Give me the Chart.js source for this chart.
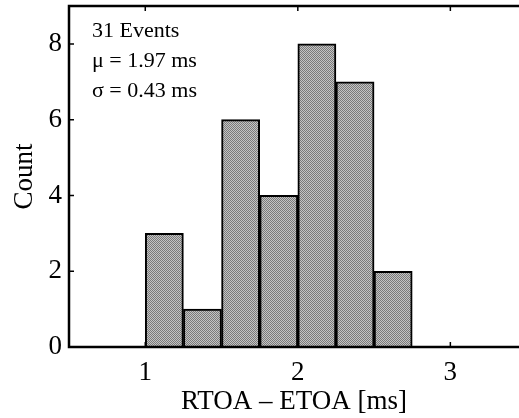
<!DOCTYPE html>
<html>
<head>
<meta charset="utf-8">
<script src="https://cdn.jsdelivr.net/npm/chart.js@4/dist/chart.umd.min.js"></script>
<style>
  html, body { margin: 0; padding: 0; background: #fff; }
  #wrap { width: 519px; height: 418px; }
</style>
</head>
<body>
<div id="wrap"><canvas id="histo"></canvas></div>
<script>
// bin edges of the histogram (ms) and counts in each bin
const binEdges = [1.0, 1.25, 1.5, 1.75, 2.0, 2.25, 2.5, 2.75];
const counts = [3, 1, 6, 4, 8, 7, 2];
const xTicks = [1, 2, 3];
const yTicks = [0, 2, 4, 6, 8];
const statsLines = ["31 Events", "\u03bc = 1.97 ms", "\u03c3 = 0.43 ms"];

const points = [];
for (let i = 0; i < counts.length; i++) {
  points.push({ x: (binEdges[i] + binEdges[i + 1]) / 2, y: counts[i] });
}

// stippled grey fill like the print
function makePattern() {
  const c = document.createElement("canvas");
  c.width = 2; c.height = 2;
  const g = c.getContext("2d");
  g.fillStyle = "#c4c4c4"; g.fillRect(0, 0, 2, 2);
  g.fillStyle = "#7a7a7a"; g.fillRect(0, 0, 1, 1); g.fillRect(1, 1, 1, 1);
  return g.createPattern(c, "repeat");
}

const serif = "'Liberation Serif', 'DejaVu Serif', serif";
const axisFont = { family: serif, size: 27, lineHeight: 1 };

// frame, inward ticks and stats text
const framePlugin = {
  id: "frame",
  afterDatasetsDraw(chart) {
    const ctx = chart.ctx;
    const a = chart.chartArea;
    const xs = chart.scales.x, ys = chart.scales.y;
    ctx.save();
    ctx.strokeStyle = "#000";
    ctx.lineWidth = 2.5;
    ctx.beginPath();
    ctx.moveTo(a.right, a.top);
    ctx.lineTo(a.left, a.top);
    ctx.lineTo(a.left, a.bottom);
    ctx.lineTo(a.right, a.bottom);
    ctx.stroke();
    ctx.lineWidth = 1.5;
    ctx.beginPath();
    for (const v of xTicks) {
      const px = xs.getPixelForValue(v);
      ctx.moveTo(px, a.bottom); ctx.lineTo(px, a.bottom - 5);
      ctx.moveTo(px, a.top); ctx.lineTo(px, a.top + 5);
    }
    for (const v of yTicks) {
      const py = ys.getPixelForValue(v);
      ctx.moveTo(a.left, py); ctx.lineTo(a.left + 5, py);
    }
    ctx.stroke();
    ctx.fillStyle = "#000";
    ctx.font = "22px " + serif;
    ctx.textBaseline = "alphabetic";
    for (let i = 0; i < statsLines.length; i++) {
      ctx.fillText(statsLines[i], a.left + 23, a.top + 31 + i * 30);
    }
    ctx.restore();
  }
};

new Chart(document.querySelector("#histo"), {
  type: "bar",
  data: {
    datasets: [{
      data: points,
      backgroundColor: makePattern(),
      borderColor: "#000",
      borderWidth: 2,
      barPercentage: 1,
      categoryPercentage: 1,
    }],
  },
  options: {
    responsive: true,
    maintainAspectRatio: false,
    animation: false,
    layout: { padding: { top: 6, right: 0, left: 5, bottom: 0 } },
    plugins: { legend: { display: false }, tooltip: { enabled: false } },
    scales: {
      x: {
        type: "linear",
        min: 0.5,
        max: 3.45,
        offset: false,
        afterBuildTicks: (s) => { s.ticks = xTicks.map(v => ({ value: v })); },
        afterFit: (s) => { s.height = 71; s.paddingLeft = 0; s.paddingRight = 0; },
        grid: { display: false, drawTicks: false },
        border: { display: false },
        ticks: { color: "#000", font: axisFont, padding: 12, maxRotation: 0 },
        title: {
          display: true,
          text: "RTOA \u2013 ETOA [ms]",
          color: "#000",
          font: axisFont,
          padding: { top: 2, bottom: 3 },
        },
      },
      y: {
        min: 0,
        max: 9,
        afterBuildTicks: (s) => { s.ticks = yTicks.map(v => ({ value: v })); },
        afterFit: (s) => { s.width = 64; s.paddingTop = 0; s.paddingBottom = 0; },
        grid: { display: false, drawTicks: false },
        border: { display: false },
        ticks: { color: "#000", font: axisFont, padding: 7 },
        title: {
          display: true,
          text: "Count",
          color: "#000",
          font: axisFont,
          padding: { top: 6, bottom: 4 },
        },
      },
    },
  },
  plugins: [framePlugin],
});
</script>
</body>
</html>
